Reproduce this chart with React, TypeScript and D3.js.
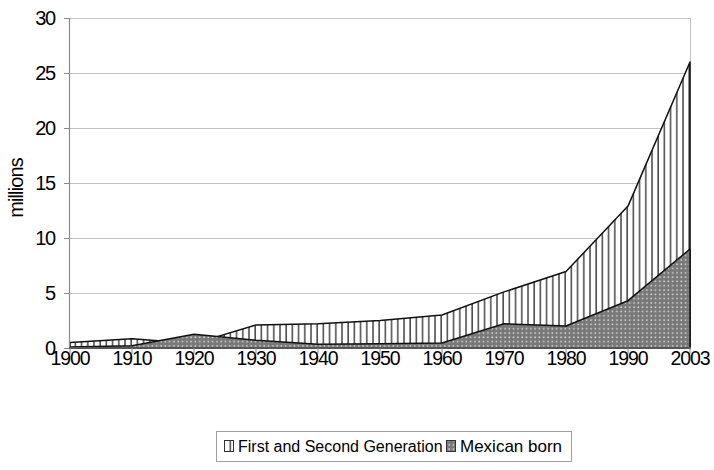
import React from "react";
import * as d3 from "d3";

const years = ["1900", "1910", "1920", "1930", "1940", "1950", "1960", "1970", "1980", "1990", "2003"];
const firstSecondGen = [0.5, 0.85, 0.4, 2.1, 2.2, 2.5, 3.0, 5.1, 6.95, 12.9, 26.0];
const mexicanBorn = [0.1, 0.2, 1.25, 0.7, 0.35, 0.38, 0.45, 2.2, 2.0, 4.3, 9.0];
const yTicks = [0, 5, 10, 15, 20, 25, 30];
const seriesNames = ["First and Second Generation", "Mexican born"];

const W = 714;
const H = 470;
const FONT = "'Liberation Sans', Arial, Helvetica, sans-serif";

export default function App() {
  const x = d3.scalePoint<string>().domain(years).range([70, 690]);
  const y = d3.scaleLinear().domain([0, 30]).range([348, 18]);

  const area = d3
    .area<number>()
    .x((_, i) => x(years[i]) as number)
    .y0(y(0))
    .y1((d) => y(d));

  const x0 = x(years[0]) as number;
  const x1 = x(years[years.length - 1]) as number;

  return (
    <svg width={W} height={H} style={{ position: "absolute", left: 0, top: 0, background: "#fff" }}>
      <defs>
        <pattern id="vhatch" patternUnits="userSpaceOnUse" width={6.2} height={10}>
          <rect width={6.2} height={10} fill="#fff" />
          <line x1={1} y1={0} x2={1} y2={10} stroke="#505050" strokeWidth={1.6} />
        </pattern>
        <pattern id="dots" patternUnits="userSpaceOnUse" width={4.3} height={4.3}>
          <rect width={4.3} height={4.3} fill="#787878" />
          <rect x={1.2} y={1.2} width={1.5} height={1.5} fill="#dcdcdc" />
        </pattern>
      </defs>

      {/* gridlines */}
      {yTicks.filter((t) => t > 0).map((t) => (
        <line key={t} x1={x0} x2={x1} y1={y(t) + 0.5} y2={y(t) + 0.5} stroke="#c4c4c4" strokeWidth={1} />
      ))}
      {/* right plot border */}
      <line x1={x1 + 0.5} x2={x1 + 0.5} y1={y(30)} y2={y(0)} stroke="#c4c4c4" strokeWidth={1} />

      {/* areas */}
      <path d={area(firstSecondGen) || ""} fill="url(#vhatch)" stroke="#111" strokeWidth={1.5} strokeLinejoin="round" />
      <path d={area(mexicanBorn) || ""} fill="url(#dots)" stroke="#111" strokeWidth={1.5} strokeLinejoin="round" />

      {/* y axis */}
      <line x1={x0 - 0.5} x2={x0 - 0.5} y1={y(30)} y2={y(0)} stroke="#8a8a8a" strokeWidth={1.2} />
      {yTicks.map((t) => (
        <g key={t}>
          <line x1={x0 - 6} x2={x0} y1={y(t) + 0.5} y2={y(t) + 0.5} stroke="#8a8a8a" strokeWidth={1} />
          <text x={55} y={y(t) + 6.5} textAnchor="end" fontFamily={FONT} fontSize={20} fill="#000" letterSpacing={-1.2}>
            {t}
          </text>
        </g>
      ))}

      {/* x axis */}
      <line x1={x0 - 1} x2={x1 + 1} y1={y(0)} y2={y(0)} stroke="#555" strokeWidth={2} />
      {years.map((yr) => (
        <g key={yr}>
          <line x1={x(yr) as number} x2={x(yr) as number} y1={y(0)} y2={y(0) + 6} stroke="#8a8a8a" strokeWidth={1} />
          <text x={x(yr) as number} y={364.5} textAnchor="middle" fontFamily={FONT} fontSize={19.5} fill="#000" letterSpacing={-1.1}>
            {yr}
          </text>
        </g>
      ))}

      {/* y title */}
      <text
        transform="translate(23,188) rotate(-90)"
        textAnchor="middle"
        fontFamily={FONT}
        fontSize={20}
        letterSpacing={-0.9}
        fill="#000"
      >
        millions
      </text>

      {/* legend */}
      <rect x={216.5} y={431.5} width={355} height={30} fill="#fff" stroke="#a0a0a0" strokeWidth={1} />
      <rect x={224.5} y={440.5} width={9} height={11} fill="url(#vhatch)" stroke="#333" strokeWidth={1} />
      <text x={238} y={452} fontFamily={FONT} fontSize={16} fill="#000">
        {seriesNames[0]}
      </text>
      <rect x={446.5} y={440.5} width={9} height={11} fill="url(#dots)" stroke="#333" strokeWidth={1} />
      <text x={460} y={452} fontFamily={FONT} fontSize={17} fill="#000">
        {seriesNames[1]}
      </text>
    </svg>
  );
}
